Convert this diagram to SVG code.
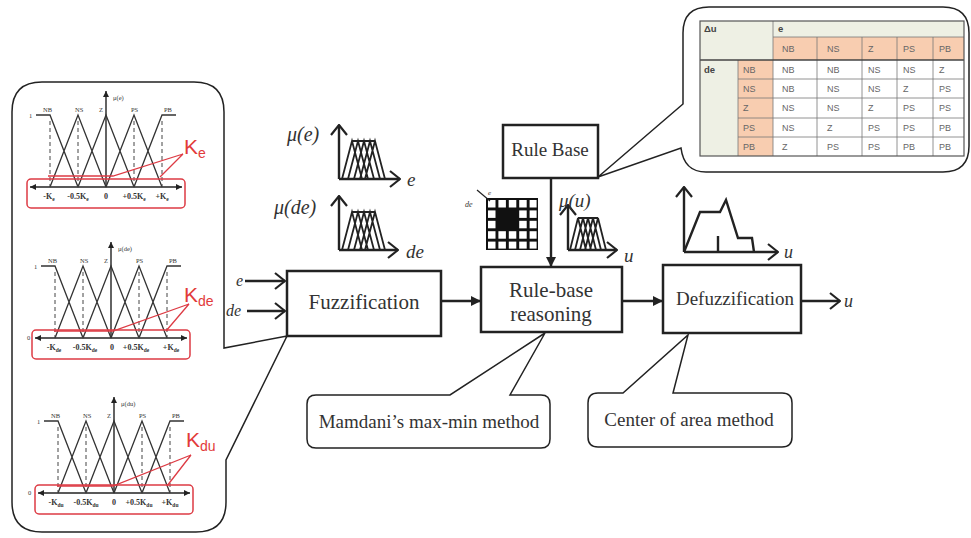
<svg xmlns="http://www.w3.org/2000/svg" width="971" height="538" viewBox="0 0 971 538">
<defs>
<marker id="chev" viewBox="0 0 12 18" refX="11" refY="9" markerWidth="12" markerHeight="18" markerUnits="userSpaceOnUse" orient="auto">
<path d="M1,1 L11,9 L1,17" fill="none" stroke="#222" stroke-width="2.2"/>
</marker>
<marker id="tri" viewBox="0 0 10 10" refX="10" refY="5" markerWidth="10" markerHeight="10" markerUnits="userSpaceOnUse" orient="auto">
<path d="M0,0 L10,5 L0,10 Z" fill="#222"/>
</marker>
<marker id="tris" viewBox="0 0 10 10" refX="10" refY="5" markerWidth="6" markerHeight="6" markerUnits="userSpaceOnUse" orient="auto-start-reverse">
<path d="M0,0 L10,5 L0,10 Z" fill="#222"/>
</marker>
<g id="mf">
<line x1="0" y1="0" x2="0" y2="-96" class="ax" marker-end="url(#tris)"/>
<line x1="-76" y1="0" x2="76" y2="0" class="ax" marker-start="url(#tris)" marker-end="url(#tris)"/>
<path class="mfl" d="M-70,-72 H-56 L-28,0 M-56,0 L-28,-72 L0,0 M-28,0 L0,-72 L28,0 M0,0 L28,-72 L56,0 M28,0 L56,-72 H70"/>
<path class="dash" d="M-56,-66 V0 M-28,-66 V0 M28,-66 V0 M56,-66 V0"/>
<text class="tiny" x="-63" y="-75">NB</text>
<text class="tiny" x="-31" y="-75">NS</text>
<text class="tiny" x="-7" y="-75">Z</text>
<text class="tiny" x="25" y="-75">PS</text>
<text class="tiny" x="58" y="-75">PB</text>
<text class="tiny" x="-77" y="-69">1</text>
<rect x="-79" y="-8" width="158" height="29" rx="4" class="redbox"/>
</g>
</defs>
<style>
.box{fill:#fff;stroke:#222;stroke-width:2.5}
.bt{font-family:"Liberation Serif",serif;fill:#333;text-anchor:middle}
.it{font-family:"Liberation Serif",serif;font-style:italic;fill:#333}
.ln{stroke:#222;stroke-width:2.4;fill:none}
.ax{stroke:#222;stroke-width:1.4;fill:none}
.mfl{stroke:#333;stroke-width:1.3;fill:none}
.dash{stroke:#444;stroke-width:1;stroke-dasharray:4 3;fill:none}
.tiny{font-family:"Liberation Serif",serif;font-size:6.5px;fill:#333}
.lab{font-family:"Liberation Serif",serif;font-size:8px;font-weight:bold;fill:#333;text-anchor:middle}
.redbox{fill:none;stroke:#dd3b44;stroke-width:1.5}
.red{stroke:#dd3b44;stroke-width:1.3;fill:none}
.kt{font-family:"Liberation Sans",sans-serif;font-size:21px;fill:#e23a3a}
.bub{fill:#fff;stroke:#222;stroke-width:1.5}
.clu{stroke:#222;stroke-width:1.8;fill:none}
.tb{font-family:"Liberation Sans",sans-serif;font-size:9px;fill:#666}
.tbb{font-family:"Liberation Sans",sans-serif;font-size:9.5px;font-weight:bold;fill:#444}
.grid{stroke:#777;stroke-width:0.8}
</style>
<rect width="971" height="538" fill="#fff"/>

<g id="left-panel">
<path class="bub" d="M42,82 H194 Q224,82 224,112 V348 L287,336 L226,460 V502 Q226,532 196,532 H42 Q12,532 12,502 V112 Q12,82 42,82 Z"/>
<g id="mf-e" transform="translate(106,187)">
<use href="#mf"/>
<text class="tiny" x="7" y="-87">μ(e)</text>
<text class="lab" x="-57" y="12">-K<tspan font-size="5.5" dy="2">e</tspan></text>
<text class="lab" x="-28" y="12">-0.5K<tspan font-size="5.5" dy="2">e</tspan></text>
<text class="lab" x="0" y="12">0</text>
<text class="lab" x="28" y="12">+0.5K<tspan font-size="5.5" dy="2">e</tspan></text>
<text class="lab" x="56" y="12">+K<tspan font-size="5.5" dy="2">e</tspan></text>
</g>
<path class="red" d="M183,154 L113,176 L48,176 M183,154 L160,177"/>
<text class="kt" x="184" y="154">K<tspan font-size="14" dy="4">e</tspan></text>

<g id="mf-de" transform="translate(111,338)">
<use href="#mf"/>
<text class="tiny" x="7" y="-87">μ(de)</text>
<text class="tiny" x="-84" y="2">0</text>
<text class="lab" x="-57" y="12">-K<tspan font-size="5.5" dy="2">de</tspan></text>
<text class="lab" x="-26" y="12">-0.5K<tspan font-size="5.5" dy="2">de</tspan></text>
<text class="lab" x="1" y="12">0</text>
<text class="lab" x="25" y="12">+0.5K<tspan font-size="5.5" dy="2">de</tspan></text>
<text class="lab" x="60" y="12">+K<tspan font-size="5.5" dy="2">de</tspan></text>
</g>
<path class="red" d="M189,304 L113,331 L54,331 M189,304 L166,331"/>
<text class="kt" x="184" y="302">K<tspan font-size="14" dy="4">de</tspan></text>

<g id="mf-du" transform="translate(114,493)">
<use href="#mf"/>
<text class="tiny" x="7" y="-87">μ(du)</text>
<text class="tiny" x="-86" y="2">0</text>
<text class="lab" x="-58" y="12">-K<tspan font-size="5.5" dy="2">du</tspan></text>
<text class="lab" x="-28" y="12">-0.5K<tspan font-size="5.5" dy="2">du</tspan></text>
<text class="lab" x="0" y="12">0</text>
<text class="lab" x="25" y="12">+0.5K<tspan font-size="5.5" dy="2">du</tspan></text>
<text class="lab" x="56" y="12">+K<tspan font-size="5.5" dy="2">du</tspan></text>
</g>
<path class="red" d="M191,455 L113,486 L57,486 M191,455 L167,486"/>
<text class="kt" x="186" y="447">K<tspan font-size="14" dy="4">du</tspan></text>
</g>

<g id="plot-e">
<line class="ln" x1="339" y1="179" x2="339" y2="125" marker-end="url(#chev)"/>
<line class="ln" x1="339" y1="179" x2="400" y2="179" marker-end="url(#chev)"/>
<path class="clu" d="M342,179 L352,141 L362,179 M348,179 L358,141 L368,179 M354,179 L364,141 L374,179 M360,179 L370,141 L380,179 M365,179 L375,141 L385,179 M352,141 H375"/>
<text class="it" x="287" y="141" font-size="20">μ(e)</text>
<text class="it" x="407" y="186" font-size="19">e</text>
</g>
<g id="plot-de">
<line class="ln" x1="339" y1="250" x2="339" y2="196" marker-end="url(#chev)"/>
<line class="ln" x1="339" y1="250" x2="398" y2="250" marker-end="url(#chev)"/>
<path class="clu" d="M342,250 L352,212 L362,250 M348,250 L358,212 L368,250 M354,250 L364,212 L374,250 M360,250 L370,212 L380,250 M365,250 L375,212 L385,250 M352,212 H375"/>
<text class="it" x="274" y="214" font-size="20">μ(de)</text>
<text class="it" x="406" y="258" font-size="19">de</text>
</g>

<g id="rule-grid">
<rect x="486" y="198" width="52" height="52" fill="#111"/>
<g fill="#fff">
<rect x="488" y="200" width="7.5" height="7.5"/><rect x="498.4" y="200" width="7.5" height="7.5"/><rect x="508.8" y="200" width="7.5" height="7.5"/><rect x="519.2" y="200" width="7.5" height="7.5"/><rect x="529.6" y="200" width="7" height="7.5"/>
<rect x="488" y="210.4" width="7.5" height="7.5"/><rect x="519.2" y="210.4" width="7.5" height="7.5"/><rect x="529.6" y="210.4" width="7" height="7.5"/>
<rect x="488" y="220.8" width="7.5" height="7.5"/><rect x="519.2" y="220.8" width="7.5" height="7.5"/><rect x="529.6" y="220.8" width="7" height="7.5"/>
<rect x="488" y="231.2" width="7.5" height="7.5"/><rect x="498.4" y="231.2" width="7.5" height="7.5"/><rect x="508.8" y="231.2" width="7.5" height="7.5"/><rect x="519.2" y="231.2" width="7.5" height="7.5"/><rect x="529.6" y="231.2" width="7" height="7.5"/>
<rect x="488" y="241.6" width="7.5" height="7"/><rect x="498.4" y="241.6" width="7.5" height="7"/><rect x="508.8" y="241.6" width="7.5" height="7"/><rect x="519.2" y="241.6" width="7.5" height="7"/><rect x="529.6" y="241.6" width="7" height="7"/>
</g>
<line x1="477" y1="190" x2="490" y2="201" stroke="#222" stroke-width="1.2"/>
<text class="it" x="465" y="207" font-size="8">de</text>
<text class="it" x="488" y="195" font-size="7">e</text>
</g>

<g id="plot-u">
<line class="ln" x1="568" y1="250" x2="568" y2="205" marker-end="url(#chev)"/>
<line class="ln" x1="568" y1="250" x2="617" y2="250" marker-end="url(#chev)"/>
<path class="clu" d="M570,250 L578,218 L586,250 M575,250 L583,218 L591,250 M580,250 L588,218 L596,250 M585,250 L593,218 L601,250 M590,250 L598,218 L606,250 M578,218 H598"/>
<text class="it" x="559" y="207" font-size="19">μ(u)</text>
<text class="it" x="624" y="262" font-size="19">u</text>
</g>

<g id="plot-defuzz">
<line class="ln" x1="684" y1="252" x2="684" y2="187" marker-end="url(#chev)"/>
<line class="ln" x1="684" y1="252" x2="778" y2="252" marker-end="url(#chev)"/>
<path class="ln" d="M684,252 L700,212 H720 L726,200 L738,238 H752 L754,252 M718,236 V252"/>
<text class="it" x="784" y="258" font-size="18">u</text>
</g>

<g id="connectors">
<line class="ln" x1="245" y1="281" x2="285" y2="281" marker-end="url(#chev)"/>
<line class="ln" x1="247" y1="311" x2="285" y2="311" marker-end="url(#chev)"/>
<line class="ln" x1="441" y1="301" x2="481" y2="301" marker-end="url(#tri)"/>
<line class="ln" x1="551" y1="178" x2="551" y2="267" marker-end="url(#tri)"/>
<line class="ln" x1="622" y1="301" x2="663" y2="301" marker-end="url(#tri)"/>
<line class="ln" x1="801" y1="301" x2="840" y2="301" marker-end="url(#chev)"/>
<text class="it" x="236" y="286" font-size="16">e</text>
<text class="it" x="226" y="316" font-size="16">de</text>
<text class="it" x="844" y="307" font-size="18">u</text>
</g>

<g id="fuzzification">
<rect class="box" x="287" y="271" width="154" height="65"/>
<text class="bt" x="364" y="309" font-size="21">Fuzzification</text>
</g>
<g id="rule-base">
<rect class="box" x="503" y="125" width="95" height="53"/>
<text class="bt" x="550" y="156" font-size="19">Rule Base</text>
</g>
<g id="reasoning">
<rect class="box" x="481" y="267" width="141" height="65"/>
<text class="bt" x="551" y="297" font-size="21">Rule-base</text>
<text class="bt" x="551" y="321" font-size="21">reasoning</text>
</g>
<g id="defuzzification">
<rect class="box" x="663" y="265" width="138" height="68"/>
<text class="bt" x="735" y="305" font-size="19">Defuzzification</text>
</g>

<g id="mamdani">
<path class="bub" d="M316,395 H450 L545,333 L510,395 H541 Q550,395 550,404 V439 Q550,448 541,448 H316 Q307,448 307,439 V404 Q307,395 316,395 Z"/>
<text class="bt" x="429" y="428" font-size="19">Mamdani’s  max-min method</text>
</g>
<g id="center-area">
<path class="bub" d="M598,393 H623 L688,335 L673,393 H782 Q792,393 792,403 V437 Q792,447 782,447 H598 Q588,447 588,437 V403 Q588,393 598,393 Z"/>
<text class="bt" x="689" y="426" font-size="19">Center of area method</text>
</g>

<g id="rule-table">
<path class="bub" d="M598,177 L683,104 V33 Q683,7 709,7 H943 Q969,7 969,33 V146 Q969,172 943,172 H706 Q684,172 681,148 Z"/>
<rect x="700" y="21" width="73" height="39" fill="#eef0e4"/>
<rect x="773" y="21" width="191" height="16" fill="#eef0e4"/>
<rect x="773" y="37" width="191" height="23" fill="#f8cdb0"/>
<rect x="700" y="60" width="38" height="96" fill="#eef0e4"/>
<rect x="738" y="60" width="35" height="96" fill="#f8cdb0"/>
<g class="grid">
<line x1="773" y1="21" x2="773" y2="156"/>
<line x1="738" y1="60" x2="738" y2="156"/>
<line x1="817" y1="37" x2="817" y2="156"/>
<line x1="862" y1="37" x2="862" y2="156"/>
<line x1="897" y1="37" x2="897" y2="156"/>
<line x1="933" y1="37" x2="933" y2="156"/>
<line x1="773" y1="37" x2="964" y2="37"/>
<line x1="738" y1="79" x2="964" y2="79"/>
<line x1="738" y1="98" x2="964" y2="98"/>
<line x1="738" y1="118" x2="964" y2="118"/>
<line x1="738" y1="137" x2="964" y2="137"/>
</g>
<line x1="700" y1="60" x2="964" y2="60" stroke="#444" stroke-width="1.5"/>
<rect x="700" y="21" width="264" height="135" fill="none" stroke="#555" stroke-width="1.2"/>
<text class="tbb" x="704" y="32">Δu</text>
<text class="tbb" x="778" y="32">e</text>
<text class="tb" x="782" y="52">NB</text><text class="tb" x="827" y="52">NS</text><text class="tb" x="868" y="52">Z</text><text class="tb" x="903" y="52">PS</text><text class="tb" x="939" y="52">PB</text>
<text class="tbb" x="704" y="73">de</text>
<text class="tb" x="743" y="73">NB</text><text class="tb" x="743" y="92">NS</text><text class="tb" x="743" y="111">Z</text><text class="tb" x="743" y="131">PS</text><text class="tb" x="743" y="150">PB</text>
<text class="tb" x="782" y="73">NB</text><text class="tb" x="827" y="73">NB</text><text class="tb" x="868" y="73">NS</text><text class="tb" x="903" y="73">NS</text><text class="tb" x="939" y="73">Z</text>
<text class="tb" x="782" y="92">NB</text><text class="tb" x="827" y="92">NS</text><text class="tb" x="868" y="92">NS</text><text class="tb" x="903" y="92">Z</text><text class="tb" x="939" y="92">PS</text>
<text class="tb" x="782" y="111">NS</text><text class="tb" x="827" y="111">NS</text><text class="tb" x="868" y="111">Z</text><text class="tb" x="903" y="111">PS</text><text class="tb" x="939" y="111">PS</text>
<text class="tb" x="782" y="131">NS</text><text class="tb" x="827" y="131">Z</text><text class="tb" x="868" y="131">PS</text><text class="tb" x="903" y="131">PS</text><text class="tb" x="939" y="131">PB</text>
<text class="tb" x="782" y="150">Z</text><text class="tb" x="827" y="150">PS</text><text class="tb" x="868" y="150">PS</text><text class="tb" x="903" y="150">PB</text><text class="tb" x="939" y="150">PB</text>
</g>
</svg>
